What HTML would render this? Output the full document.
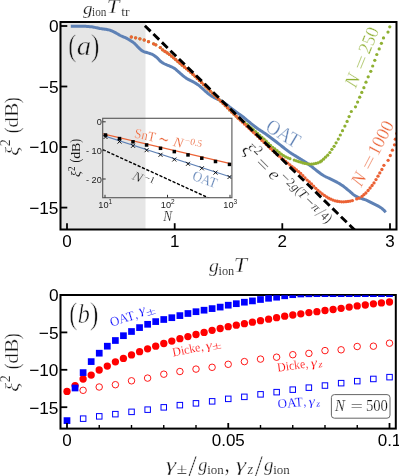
<!DOCTYPE html>
<html><head><meta charset="utf-8"><title>figure</title>
<style>
html,body{margin:0;padding:0;background:#fff;}
svg{display:block;will-change:transform;}
.ss{font-family:"Liberation Sans",sans-serif;}
.sr{font-family:"Liberation Serif",serif;}
.it{font-style:italic;}
</style></head><body>
<svg width="399" height="476" viewBox="0 0 399 476">
<rect x="0" y="0" width="399" height="476" fill="#fff"/>
<defs>
<clipPath id="ca"><rect x="60.5" y="22.0" width="336.0" height="207.5"/></clipPath>
<clipPath id="ci"><rect x="102.7" y="118.3" width="129.2" height="79.4"/></clipPath>
<clipPath id="cb"><rect x="60.5" y="295.3" width="335.5" height="133.2"/></clipPath>
</defs>
<rect x="60.5" y="22.0" width="85.0" height="207.5" fill="#e6e6e6"/>
<g clip-path="url(#ca)">
<path d="M70.80,26.20 L71.80,26.20 L72.80,26.20 L73.80,26.20 L74.80,26.20 L75.80,26.20 L76.80,26.20 L77.80,26.20 L78.80,26.20 L79.80,26.20 L80.80,26.20 L81.80,26.20 L82.80,26.20 L83.80,26.22 L84.80,26.26 L85.80,26.31 L86.80,26.38 L87.80,26.46 L88.80,26.55 L89.80,26.65 L90.80,26.75 L91.80,26.86 L92.80,27.00 L93.80,27.17 L94.80,27.37 L95.80,27.59 L96.80,27.82 L97.80,28.04 L98.80,28.25 L99.80,28.45 L100.80,28.62 L101.80,28.77 L102.80,28.90 L103.80,29.04 L104.80,29.17 L105.80,29.32 L106.80,29.48 L107.80,29.66 L108.80,29.88 L109.80,30.15 L110.80,30.51 L111.80,30.93 L112.80,31.39 L113.80,31.86 L114.80,32.34 L115.80,32.88 L116.80,33.46 L117.80,34.05 L118.80,34.65 L119.80,35.22 L120.80,35.75 L121.80,36.23 L122.80,36.65 L123.80,37.06 L124.80,37.47 L125.80,37.91 L126.80,38.41 L127.80,38.97 L128.80,39.57 L129.80,40.18 L130.80,40.80 L131.80,41.43 L132.80,42.10 L133.80,42.84 L134.80,43.71 L135.80,44.75 L136.80,45.85 L137.80,46.92 L138.80,47.88 L139.80,48.82 L140.80,49.74 L141.80,50.56 L142.80,51.20 L143.80,51.64 L144.80,51.98 L145.80,52.27 L146.80,52.55 L147.80,52.87 L148.80,53.18 L149.80,53.49 L150.80,53.82 L151.80,54.21 L152.80,54.69 L153.80,55.28 L154.80,55.95 L155.80,56.68 L156.80,57.46 L157.80,58.43 L158.80,59.53 L159.80,60.62 L160.80,61.57 L161.80,62.29 L162.80,62.93 L163.80,63.49 L164.80,64.01 L165.80,64.49 L166.80,64.92 L167.80,65.29 L168.80,65.67 L169.80,66.07 L170.80,66.51 L171.80,66.97 L172.80,67.47 L173.80,68.01 L174.80,68.63 L175.80,69.42 L176.80,70.31 L177.80,71.23 L178.80,72.10 L179.80,72.99 L180.80,73.88 L181.80,74.73 L182.80,75.56 L183.80,76.37 L184.80,77.15 L185.80,77.87 L186.80,78.51 L187.80,79.10 L188.80,79.66 L189.80,80.19 L190.80,80.71 L191.80,81.19 L192.80,81.68 L193.80,82.19 L194.80,82.75 L195.80,83.35 L196.80,83.98 L197.80,84.66 L198.80,85.40 L199.80,86.20 L200.80,87.05 L201.80,87.93 L202.80,88.82 L203.80,89.77 L204.80,90.72 L205.80,91.63 L206.80,92.48 L207.80,93.32 L208.80,94.11 L209.80,94.86 L210.80,95.55 L211.80,96.20 L212.80,96.82 L213.80,97.39 L214.80,97.91 L215.80,98.39 L216.80,98.85 L217.80,99.31 L218.80,99.77 L219.80,100.22 L220.80,100.68 L221.80,101.19 L222.80,101.77 L223.80,102.42 L224.80,103.12 L225.80,103.85 L226.80,104.62 L227.80,105.46 L228.80,106.31 L229.80,107.14 L230.80,107.92 L231.80,108.67 L232.80,109.41 L233.80,110.15 L234.80,110.90 L235.80,111.66 L236.80,112.41 L237.80,113.15 L238.80,113.87 L239.80,114.57 L240.80,115.26 L241.80,115.98 L242.80,116.73 L243.80,117.53 L244.80,118.36 L245.80,119.20 L246.80,120.04 L247.80,120.86 L248.80,121.69 L249.80,122.52 L250.80,123.34 L251.80,124.15 L252.80,124.93 L253.80,125.70 L254.80,126.46 L255.80,127.21 L256.80,127.94 L257.80,128.66 L258.80,129.36 L259.80,130.04 L260.80,130.70 L261.80,131.35 L262.80,132.01 L263.80,132.68 L264.80,133.36 L265.80,134.06 L266.80,134.77 L267.80,135.50 L268.80,136.22 L269.80,136.96 L270.80,137.70 L271.80,138.45 L272.80,139.20 L273.80,139.97 L274.80,140.74 L275.80,141.52 L276.80,142.30 L277.80,143.09 L278.80,143.87 L279.80,144.65 L280.80,145.42 L281.80,146.21 L282.80,147.01 L283.80,147.80 L284.80,148.60 L285.80,149.39 L286.80,150.16 L287.80,150.92 L288.80,151.65 L289.80,152.36 L290.80,153.04 L291.80,153.69 L292.80,154.32 L293.80,154.94 L294.80,155.55 L295.80,156.15 L296.80,156.76 L297.80,157.38 L298.80,158.00 L299.80,158.61 L300.80,159.22 L301.80,159.83 L302.80,160.45 L303.80,161.07 L304.80,161.71 L305.80,162.37 L306.80,163.04 L307.80,163.74 L308.80,164.45 L309.80,165.18 L310.80,165.92 L311.80,166.68 L312.80,167.48 L313.80,168.31 L314.80,169.14 L315.80,169.96 L316.80,170.76 L317.80,171.52 L318.80,172.27 L319.80,173.01 L320.80,173.74 L321.80,174.43 L322.80,175.09 L323.80,175.70 L324.80,176.26 L325.80,176.78 L326.80,177.27 L327.80,177.75 L328.80,178.22 L329.80,178.70 L330.80,179.19 L331.80,179.67 L332.80,180.15 L333.80,180.63 L334.80,181.12 L335.80,181.63 L336.80,182.17 L337.80,182.73 L338.80,183.30 L339.80,183.90 L340.80,184.52 L341.80,185.16 L342.80,185.84 L343.80,186.56 L344.80,187.34 L345.80,188.15 L346.80,188.97 L347.80,189.80 L348.80,190.62 L349.80,191.45 L350.80,192.33 L351.80,193.22 L352.80,194.08 L353.80,194.87 L354.80,195.57 L355.80,196.17 L356.80,196.71 L357.80,197.20 L358.80,197.64 L359.80,198.03 L360.80,198.38 L361.80,198.69 L362.80,198.98 L363.80,199.28 L364.80,199.60 L365.80,199.96 L366.80,200.37 L367.80,200.83 L368.80,201.32 L369.80,201.83 L370.80,202.36 L371.80,202.89 L372.80,203.40 L373.80,203.90 L374.80,204.38 L375.80,204.86 L376.80,205.36 L377.80,205.87 L378.80,206.42 L379.80,207.01 L380.80,207.66 L381.80,208.40 L382.80,209.24 L383.80,210.17 L384.80,211.17 L385.80,212.23" fill="none" stroke="#5E81B5" stroke-width="3.0" stroke-linejoin="round" stroke-linecap="butt" />
<g fill="#8FB032"><circle cx="131.30" cy="37.00" r="1.62"/><circle cx="135.60" cy="37.80" r="1.62"/><circle cx="139.90" cy="38.80" r="1.62"/><circle cx="144.20" cy="40.00" r="1.62"/><circle cx="148.50" cy="41.70" r="1.62"/><circle cx="153.60" cy="43.83" r="1.62"/><circle cx="155.80" cy="44.80" r="1.62"/><circle cx="160.30" cy="47.60" r="1.62"/><circle cx="162.60" cy="49.80" r="1.62"/><circle cx="165.00" cy="51.48" r="1.62"/><circle cx="167.15" cy="52.82" r="1.62"/><circle cx="169.31" cy="54.33" r="1.62"/><circle cx="171.46" cy="56.04" r="1.62"/><circle cx="173.62" cy="57.84" r="1.62"/><circle cx="175.77" cy="59.65" r="1.62"/><circle cx="177.92" cy="61.51" r="1.62"/><circle cx="180.08" cy="63.37" r="1.62"/><circle cx="182.23" cy="65.19" r="1.62"/><circle cx="184.39" cy="66.99" r="1.62"/><circle cx="186.54" cy="68.75" r="1.62"/><circle cx="188.69" cy="70.50" r="1.62"/><circle cx="190.85" cy="72.35" r="1.62"/><circle cx="193.00" cy="74.31" r="1.62"/><circle cx="195.16" cy="76.34" r="1.62"/><circle cx="197.31" cy="78.41" r="1.62"/><circle cx="199.46" cy="80.48" r="1.62"/><circle cx="201.62" cy="82.56" r="1.62"/><circle cx="203.77" cy="84.67" r="1.62"/><circle cx="205.93" cy="86.79" r="1.62"/><circle cx="208.08" cy="88.92" r="1.62"/><circle cx="210.23" cy="91.03" r="1.62"/><circle cx="212.39" cy="93.12" r="1.62"/><circle cx="214.54" cy="95.21" r="1.62"/><circle cx="216.70" cy="97.30" r="1.62"/><circle cx="218.85" cy="99.38" r="1.62"/><circle cx="221.00" cy="101.48" r="1.62"/><circle cx="223.16" cy="103.58" r="1.62"/><circle cx="225.31" cy="105.69" r="1.62"/><circle cx="227.47" cy="107.80" r="1.62"/><circle cx="229.62" cy="109.90" r="1.62"/><circle cx="231.77" cy="111.98" r="1.62"/><circle cx="233.93" cy="114.05" r="1.62"/><circle cx="236.08" cy="116.09" r="1.62"/><circle cx="238.24" cy="118.13" r="1.62"/><circle cx="240.39" cy="119.66" r="1.62"/><circle cx="242.54" cy="121.15" r="1.62"/><circle cx="244.70" cy="122.71" r="1.62"/><circle cx="246.85" cy="124.33" r="1.62"/><circle cx="249.01" cy="126.01" r="1.62"/><circle cx="251.16" cy="127.75" r="1.62"/><circle cx="253.31" cy="129.60" r="1.62"/><circle cx="255.47" cy="131.53" r="1.62"/><circle cx="257.62" cy="133.47" r="1.62"/><circle cx="259.78" cy="135.40" r="1.62"/><circle cx="261.93" cy="137.27" r="1.62"/><circle cx="264.08" cy="139.16" r="1.62"/><circle cx="266.24" cy="141.22" r="1.62"/><circle cx="268.39" cy="143.45" r="1.62"/><circle cx="270.55" cy="145.48" r="1.62"/><circle cx="272.70" cy="147.27" r="1.62"/><circle cx="274.85" cy="148.94" r="1.62"/><circle cx="277.01" cy="150.61" r="1.62"/><circle cx="279.16" cy="152.39" r="1.62"/><circle cx="281.32" cy="154.17" r="1.62"/><circle cx="283.47" cy="155.59" r="1.62"/><circle cx="285.62" cy="156.76" r="1.62"/><circle cx="287.78" cy="157.77" r="1.62"/><circle cx="289.93" cy="158.63" r="1.62"/><circle cx="294.24" cy="160.05" r="1.62"/><circle cx="296.39" cy="160.78" r="1.62"/><circle cx="298.55" cy="161.53" r="1.62"/><circle cx="300.70" cy="162.22" r="1.62"/><circle cx="302.86" cy="162.88" r="1.62"/><circle cx="305.01" cy="163.40" r="1.62"/><circle cx="307.16" cy="163.81" r="1.62"/><circle cx="309.32" cy="164.08" r="1.62"/><circle cx="311.47" cy="164.04" r="1.62"/><circle cx="313.63" cy="163.80" r="1.62"/><circle cx="315.78" cy="163.45" r="1.62"/><circle cx="317.93" cy="162.82" r="1.62"/><circle cx="320.09" cy="161.98" r="1.62"/><circle cx="321.50" cy="160.90" r="1.62"/><circle cx="323.50" cy="159.20" r="1.62"/><circle cx="325.50" cy="157.20" r="1.62"/><circle cx="327.70" cy="155.20" r="1.62"/><circle cx="329.90" cy="152.50" r="1.62"/><circle cx="331.90" cy="149.30" r="1.62"/><circle cx="334.10" cy="146.30" r="1.62"/><circle cx="336.10" cy="142.80" r="1.62"/><circle cx="338.30" cy="139.10" r="1.62"/><circle cx="340.30" cy="135.00" r="1.62"/><circle cx="342.50" cy="130.70" r="1.62"/><circle cx="344.90" cy="126.10" r="1.62"/><circle cx="347.10" cy="121.40" r="1.62"/><circle cx="349.10" cy="116.60" r="1.62"/><circle cx="351.30" cy="111.50" r="1.62"/><circle cx="355.50" cy="106.80" r="1.62"/><circle cx="357.60" cy="102.10" r="1.62"/><circle cx="359.70" cy="97.20" r="1.62"/><circle cx="361.80" cy="92.40" r="1.62"/><circle cx="363.90" cy="87.70" r="1.62"/><circle cx="366.00" cy="82.20" r="1.62"/><circle cx="368.20" cy="76.80" r="1.62"/><circle cx="370.80" cy="71.30" r="1.62"/><circle cx="372.70" cy="66.00" r="1.62"/><circle cx="374.80" cy="60.30" r="1.62"/><circle cx="376.80" cy="54.50" r="1.62"/><circle cx="379.20" cy="48.90" r="1.62"/><circle cx="381.40" cy="43.30" r="1.62"/><circle cx="383.50" cy="37.90" r="1.62"/><circle cx="388.00" cy="32.10" r="1.62"/><circle cx="389.80" cy="26.80" r="1.62"/></g>
<g fill="#EB6235"><circle cx="131.30" cy="37.00" r="1.65"/><circle cx="135.60" cy="37.80" r="1.65"/><circle cx="139.90" cy="38.80" r="1.65"/><circle cx="144.20" cy="40.00" r="1.65"/><circle cx="148.50" cy="41.70" r="1.65"/><circle cx="153.60" cy="43.83" r="1.65"/><circle cx="155.80" cy="44.80" r="1.65"/><circle cx="160.30" cy="47.60" r="1.65"/><circle cx="162.60" cy="49.80" r="1.65"/><circle cx="165.00" cy="51.48" r="1.65"/><circle cx="167.15" cy="52.82" r="1.65"/><circle cx="169.31" cy="54.33" r="1.65"/><circle cx="171.46" cy="56.04" r="1.65"/><circle cx="173.62" cy="57.84" r="1.65"/><circle cx="175.77" cy="59.65" r="1.65"/><circle cx="177.92" cy="61.51" r="1.65"/><circle cx="180.08" cy="63.37" r="1.65"/><circle cx="182.23" cy="65.19" r="1.65"/><circle cx="184.39" cy="66.99" r="1.65"/><circle cx="186.54" cy="68.75" r="1.65"/><circle cx="188.69" cy="70.50" r="1.65"/><circle cx="190.85" cy="72.35" r="1.65"/><circle cx="193.00" cy="74.31" r="1.65"/><circle cx="195.16" cy="76.34" r="1.65"/><circle cx="197.31" cy="78.41" r="1.65"/><circle cx="199.46" cy="80.48" r="1.65"/><circle cx="201.62" cy="82.56" r="1.65"/><circle cx="203.77" cy="84.67" r="1.65"/><circle cx="205.93" cy="86.79" r="1.65"/><circle cx="208.08" cy="88.92" r="1.65"/><circle cx="210.23" cy="91.03" r="1.65"/><circle cx="212.39" cy="93.12" r="1.65"/><circle cx="214.54" cy="95.21" r="1.65"/><circle cx="216.70" cy="97.30" r="1.65"/><circle cx="218.85" cy="99.38" r="1.65"/><circle cx="221.00" cy="101.48" r="1.65"/><circle cx="223.16" cy="103.58" r="1.65"/><circle cx="225.31" cy="105.69" r="1.65"/><circle cx="227.47" cy="107.80" r="1.65"/><circle cx="229.62" cy="109.90" r="1.65"/><circle cx="231.77" cy="111.98" r="1.65"/><circle cx="233.93" cy="114.05" r="1.65"/><circle cx="236.08" cy="116.09" r="1.65"/><circle cx="238.24" cy="118.13" r="1.65"/><circle cx="240.39" cy="120.16" r="1.65"/><circle cx="242.54" cy="122.19" r="1.65"/><circle cx="244.70" cy="124.22" r="1.65"/><circle cx="246.85" cy="126.25" r="1.65"/><circle cx="249.01" cy="128.27" r="1.65"/><circle cx="251.16" cy="130.30" r="1.65"/><circle cx="253.31" cy="132.32" r="1.65"/><circle cx="255.47" cy="134.34" r="1.65"/><circle cx="257.62" cy="136.37" r="1.65"/><circle cx="259.78" cy="138.39" r="1.65"/><circle cx="261.93" cy="140.42" r="1.65"/><circle cx="264.08" cy="142.46" r="1.65"/><circle cx="266.24" cy="144.50" r="1.65"/><circle cx="268.39" cy="146.52" r="1.65"/><circle cx="270.55" cy="148.50" r="1.65"/><circle cx="272.70" cy="150.46" r="1.65"/><circle cx="274.85" cy="152.40" r="1.65"/><circle cx="277.01" cy="154.31" r="1.65"/><circle cx="279.16" cy="156.19" r="1.65"/><circle cx="281.32" cy="158.00" r="1.65"/><circle cx="283.47" cy="159.77" r="1.65"/><circle cx="285.62" cy="161.51" r="1.65"/><circle cx="287.78" cy="163.22" r="1.65"/><circle cx="289.93" cy="164.95" r="1.65"/><circle cx="292.09" cy="166.63" r="1.65"/><circle cx="294.24" cy="168.24" r="1.65"/><circle cx="296.39" cy="169.87" r="1.65"/><circle cx="298.55" cy="171.58" r="1.65"/><circle cx="300.70" cy="173.45" r="1.65"/><circle cx="302.86" cy="175.64" r="1.65"/><circle cx="305.01" cy="178.01" r="1.65"/><circle cx="307.16" cy="180.05" r="1.65"/><circle cx="309.32" cy="181.97" r="1.65"/><circle cx="311.47" cy="183.97" r="1.65"/><circle cx="313.63" cy="186.15" r="1.65"/><circle cx="315.78" cy="188.37" r="1.65"/><circle cx="317.93" cy="190.38" r="1.65"/><circle cx="320.09" cy="192.20" r="1.65"/><circle cx="322.24" cy="193.88" r="1.65"/><circle cx="324.40" cy="195.41" r="1.65"/><circle cx="326.55" cy="196.86" r="1.65"/><circle cx="328.70" cy="198.15" r="1.65"/><circle cx="330.86" cy="199.19" r="1.65"/><circle cx="333.01" cy="200.12" r="1.65"/><circle cx="335.17" cy="200.85" r="1.65"/><circle cx="337.32" cy="201.27" r="1.65"/><circle cx="339.47" cy="201.59" r="1.65"/><circle cx="341.63" cy="201.78" r="1.65"/><circle cx="343.78" cy="201.78" r="1.65"/><circle cx="345.94" cy="201.63" r="1.65"/><circle cx="348.09" cy="201.40" r="1.65"/><circle cx="350.24" cy="201.09" r="1.65"/><circle cx="352.40" cy="200.58" r="1.65"/><circle cx="356.71" cy="198.93" r="1.65"/><circle cx="358.86" cy="198.20" r="1.65"/><circle cx="362.00" cy="196.40" r="1.65"/><circle cx="363.90" cy="194.70" r="1.65"/><circle cx="365.90" cy="193.00" r="1.65"/><circle cx="368.10" cy="190.50" r="1.65"/><circle cx="370.10" cy="188.00" r="1.65"/><circle cx="372.10" cy="185.50" r="1.65"/><circle cx="374.00" cy="182.90" r="1.65"/><circle cx="376.00" cy="179.60" r="1.65"/><circle cx="378.00" cy="176.20" r="1.65"/><circle cx="379.80" cy="172.90" r="1.65"/><circle cx="381.90" cy="169.50" r="1.65"/><circle cx="383.90" cy="165.30" r="1.65"/><circle cx="388.10" cy="160.30" r="1.65"/><circle cx="390.30" cy="155.50" r="1.65"/><circle cx="392.40" cy="150.20" r="1.65"/><circle cx="394.50" cy="144.80" r="1.65"/><circle cx="395.30" cy="139.20" r="1.65"/><circle cx="396.80" cy="133.50" r="1.65"/></g>
<path d="M143.8,24.73 L356.0,231.29" stroke="#000" stroke-width="2.9" stroke-dasharray="8 3.9" stroke-dashoffset="-1.5" fill="none"/>
</g>
<g fill="#111">
<text class="sr" transform="translate(68.20,55.54) scale(0.804,1)" font-size="30.99" stroke="#e6e6e6" stroke-width="0.56">(</text>
<text class="sr it" transform="translate(76.68,54.92) scale(1.034,1)" font-size="27.92" stroke="#e6e6e6" stroke-width="0.49">a</text>
<text class="sr" transform="translate(91.04,55.54) scale(0.819,1)" font-size="30.99" stroke="#e6e6e6" stroke-width="0.56">)</text>
</g>
<g transform="translate(264.8,130.3) rotate(31)" fill="#5E81B5"><text class="sr" transform="translate(-0.75,-0.01) scale(0.901,1)" font-size="20.75" stroke="#fff" stroke-width="0.34">OAT</text></g>
<g transform="translate(355.6,88.9) rotate(-68)" fill="#8FB032"><text class="sr it" transform="translate(0.19,0.00) scale(1.004,1)" font-size="19.24" stroke="#fff" stroke-width="0.30">N</text><text class="sr" transform="translate(19.32,1.17) scale(1.430,1)" font-size="18.40" stroke="#fff" stroke-width="0.28">=</text><text class="sr" transform="translate(36.48,0.01) scale(0.962,1)" font-size="18.67" stroke="#fff" stroke-width="0.29">250</text></g>
<g transform="translate(361.2,188.0) rotate(-62.2)" fill="#EB6235"><text class="sr it" transform="translate(0.19,0.00) scale(1.004,1)" font-size="19.24" stroke="#fff" stroke-width="0.30">N</text><text class="sr" transform="translate(18.82,0.77) scale(1.430,1)" font-size="18.40" stroke="#fff" stroke-width="0.28">=</text><text class="sr" transform="translate(35.26,0.01) scale(0.969,1)" font-size="18.67" stroke="#fff" stroke-width="0.29">1000</text></g>
<g transform="translate(241.9,150.2) rotate(44.5)" fill="#111"><text class="sr it" transform="translate(-0.62,0.93) scale(1.107,1)" font-size="18.75" stroke="#fff" stroke-width="0.29">ξ</text><text class="sr" transform="translate(8.89,-7.10) scale(0.952,1)" font-size="13.48" stroke="#fff" stroke-width="0.18">2</text><text class="sr" transform="translate(18.46,0.84) scale(1.378,1)" font-size="16.80" stroke="#fff" stroke-width="0.25">=</text><text class="sr it" transform="translate(36.02,0.02) scale(1.099,1)" font-size="17.50" stroke="#fff" stroke-width="0.26">e</text><text class="sr" transform="translate(45.79,-5.25) scale(0.868,1)" font-size="18.18" stroke="#fff" stroke-width="0.28">−</text><text class="sr" transform="translate(54.51,-7.20) scale(0.970,1)" font-size="12.73" stroke="#fff" stroke-width="0.16">2</text><text class="sr it" transform="translate(60.80,-7.38) scale(0.996,1)" font-size="12.26" stroke="#fff" stroke-width="0.15">g</text><text class="sr" transform="translate(67.15,-7.22) scale(0.805,1)" font-size="14.07" stroke="#fff" stroke-width="0.19">(</text><text class="sr it" transform="translate(70.26,-7.20) scale(1.085,1)" font-size="13.28" stroke="#fff" stroke-width="0.17">T</text><text class="sr" transform="translate(79.90,-5.25) scale(0.857,1)" font-size="18.18" stroke="#fff" stroke-width="0.28">−</text><text class="sr it" transform="translate(89.33,-7.23) scale(1.103,1)" font-size="12.55" stroke="#fff" stroke-width="0.16">π</text><text class="sr" transform="translate(97.20,-4.39) scale(0.935,1)" font-size="19.10" stroke="#fff" stroke-width="0.30">/</text><text class="sr" transform="translate(102.43,-7.20) scale(0.903,1)" font-size="12.73" stroke="#fff" stroke-width="0.16">4</text><text class="sr" transform="translate(108.25,-7.22) scale(0.820,1)" font-size="14.07" stroke="#fff" stroke-width="0.19">)</text></g>
<rect x="60.5" y="22.0" width="336.0" height="207.5" fill="none" stroke="#000" stroke-width="2"/>
<path d="M60.5,26 H67.3" stroke="#000" stroke-width="1.8"/>
<text class="ss" x="58.5" y="32.4" font-size="17.3" text-anchor="end">0</text>
<path d="M60.5,86.5 H67.3" stroke="#000" stroke-width="1.8"/>
<text class="ss" x="58.5" y="92.9" font-size="17.3" text-anchor="end">−5</text>
<path d="M60.5,147 H67.3" stroke="#000" stroke-width="1.8"/>
<text class="ss" x="58.5" y="153.4" font-size="17.3" text-anchor="end">−10</text>
<path d="M60.5,207.6 H67.3" stroke="#000" stroke-width="1.8"/>
<text class="ss" x="58.5" y="214.0" font-size="17.3" text-anchor="end">−15</text>
<path d="M67,229.5 V223.2" stroke="#000" stroke-width="1.8"/>
<text class="ss" x="67" y="247.2" font-size="17" text-anchor="middle">0</text>
<path d="M174.7,229.5 V223.2" stroke="#000" stroke-width="1.8"/>
<text class="ss" x="174.7" y="247.2" font-size="17" text-anchor="middle">1</text>
<path d="M282.3,229.5 V223.2" stroke="#000" stroke-width="1.8"/>
<text class="ss" x="282.3" y="247.2" font-size="17" text-anchor="middle">2</text>
<path d="M390,229.5 V223.2" stroke="#000" stroke-width="1.8"/>
<text class="ss" x="390" y="247.2" font-size="17" text-anchor="middle">3</text>
<g fill="#111">
<text class="sr it" transform="translate(82.90,13.67) scale(1.172,1)" font-size="16.35" stroke="#fff" stroke-width="0.24">g</text>
<text class="sr" transform="translate(92.07,15.68) scale(0.950,1)" font-size="11.85" stroke="#fff" stroke-width="0.14">ion</text>
<text class="sr it" transform="translate(106.72,13.30) scale(1.219,1)" font-size="18.63" stroke="#fff" stroke-width="0.29">T</text>
<text class="sr" transform="translate(121.13,15.68) scale(1.127,1)" font-size="12.17" stroke="#fff" stroke-width="0.15">tr</text>
</g>
<g fill="#111">
<text class="sr it" transform="translate(209.00,271.77) scale(1.031,1)" font-size="19.20" stroke="#fff" stroke-width="0.30">g</text>
<text class="sr" transform="translate(218.55,274.58) scale(1.026,1)" font-size="12.00" stroke="#fff" stroke-width="0.14">ion</text>
<text class="sr it" transform="translate(233.75,272.00) scale(1.082,1)" font-size="21.98" stroke="#fff" stroke-width="0.36">T</text>
</g>
<g transform="translate(18.4,155.2) rotate(-90) scale(1.0)" fill="#111"><text class="sr it" transform="translate(-0.62,-0.14) scale(1.055,1)" font-size="19.66" stroke="#fff" stroke-width="0.31">ξ</text><text class="sr" transform="translate(8.85,-8.20) scale(0.966,1)" font-size="14.32" stroke="#fff" stroke-width="0.19">2</text><text class="sr" transform="translate(21.91,0.19) scale(0.810,1)" font-size="21.43" stroke="#fff" stroke-width="0.35">(</text><text class="sr" transform="translate(27.45,0.06) scale(1.104,1)" font-size="19.36" stroke="#fff" stroke-width="0.31">dB</text><text class="sr" transform="translate(52.07,0.19) scale(0.826,1)" font-size="21.43" stroke="#fff" stroke-width="0.35">)</text></g>
<g clip-path="url(#ci)">
<path d="M101.75,133.6 L231.5,163.9" stroke="#EB6235" stroke-width="1.2" fill="none"/>
<path d="M101.75,135.0 L231.5,177.3" stroke="#5E81B5" stroke-width="1.2" fill="none"/>
<path d="M102.7,149.55 L210.1,198.6" stroke="#000" stroke-width="1.4" stroke-dasharray="3.2 1.6" fill="none"/>
<rect x="103.75" y="133.25" width="3.5" height="3.5" fill="#000"/>
<rect x="117.75" y="136.85" width="3.5" height="3.5" fill="#000"/>
<rect x="131.25" y="140.05" width="3.5" height="3.5" fill="#000"/>
<rect x="144.85" y="143.25" width="3.5" height="3.5" fill="#000"/>
<rect x="158.75" y="146.55" width="3.5" height="3.5" fill="#000"/>
<rect x="172.55" y="149.85" width="3.5" height="3.5" fill="#000"/>
<rect x="186.25" y="153.15" width="3.5" height="3.5" fill="#000"/>
<rect x="200.05" y="156.45" width="3.5" height="3.5" fill="#000"/>
<rect x="213.75" y="159.75" width="3.5" height="3.5" fill="#000"/>
<rect x="227.75" y="162.65" width="3.5" height="3.5" fill="#000"/>
<path d="M103.5,135.0 L107.5,139.0 M103.5,139.0 L107.5,135.0" stroke="#000" stroke-width="0.9" fill="none"/>
<path d="M117.5,139.6 L121.5,143.6 M117.5,143.6 L121.5,139.6" stroke="#000" stroke-width="0.9" fill="none"/>
<path d="M131.0,143.8 L135.0,147.8 M131.0,147.8 L135.0,143.8" stroke="#000" stroke-width="0.9" fill="none"/>
<path d="M144.6,148.2 L148.6,152.2 M144.6,152.2 L148.6,148.2" stroke="#000" stroke-width="0.9" fill="none"/>
<path d="M158.5,152.8 L162.5,156.8 M158.5,156.8 L162.5,152.8" stroke="#000" stroke-width="0.9" fill="none"/>
<path d="M172.3,157.5 L176.3,161.5 M172.3,161.5 L176.3,157.5" stroke="#000" stroke-width="0.9" fill="none"/>
<path d="M186.0,161.8 L190.0,165.8 M186.0,165.8 L190.0,161.8" stroke="#000" stroke-width="0.9" fill="none"/>
<path d="M199.8,166.3 L203.8,170.3 M199.8,170.3 L203.8,166.3" stroke="#000" stroke-width="0.9" fill="none"/>
<path d="M213.5,170.6 L217.5,174.6 M213.5,174.6 L217.5,170.6" stroke="#000" stroke-width="0.9" fill="none"/>
<path d="M227.5,175.0 L231.5,179.0 M227.5,179.0 L231.5,175.0" stroke="#000" stroke-width="0.9" fill="none"/>
</g>
<rect x="102.7" y="118.3" width="129.2" height="79.39999999999999" fill="none" stroke="#5c5c5c" stroke-width="1.15"/>
<path d="M102.7,121.8 H105.7" stroke="#333" stroke-width="1"/>
<text class="ss" x="101.8" y="125.3" font-size="9.2" text-anchor="end" fill="#222">0</text>
<path d="M102.7,150.5 H105.7" stroke="#333" stroke-width="1"/>
<text class="ss" x="101.8" y="154.0" font-size="9.2" text-anchor="end" fill="#222">- 10</text>
<path d="M102.7,179.0 H105.7" stroke="#333" stroke-width="1"/>
<text class="ss" x="101.8" y="182.5" font-size="9.2" text-anchor="end" fill="#222">- 20</text>
<path d="M105,197.7 V194.8" stroke="#333" stroke-width="1"/>
<text class="ss" x="103.4" y="207.6" font-size="9.2" text-anchor="middle" fill="#222">10</text>
<text class="ss" x="110.2" y="204.2" font-size="6.5" text-anchor="middle" fill="#222">1</text>
<path d="M167.5,197.7 V194.8" stroke="#333" stroke-width="1"/>
<text class="ss" x="165.9" y="207.6" font-size="9.2" text-anchor="middle" fill="#222">10</text>
<text class="ss" x="172.7" y="204.2" font-size="6.5" text-anchor="middle" fill="#222">2</text>
<path d="M230,197.7 V194.8" stroke="#333" stroke-width="1"/>
<text class="ss" x="228.4" y="207.6" font-size="9.2" text-anchor="middle" fill="#222">10</text>
<text class="ss" x="235.2" y="204.2" font-size="6.5" text-anchor="middle" fill="#222">3</text>
<g fill="#111"><text class="sr it" transform="translate(163.33,220.80) scale(0.903,1)" font-size="14.66" stroke="#fff" stroke-width="0.20">N</text></g>
<g transform="translate(80.0,176.7) rotate(-90) scale(0.65)" fill="#111"><text class="sr it" transform="translate(-0.62,-0.14) scale(1.055,1)" font-size="19.66" stroke="#e6e6e6" stroke-width="0.04">ξ</text><text class="sr" transform="translate(8.85,-8.20) scale(0.966,1)" font-size="14.32" stroke="#e6e6e6" stroke-width="0.00">2</text><text class="sr" transform="translate(21.91,0.19) scale(0.810,1)" font-size="21.43" stroke="#e6e6e6" stroke-width="0.05">(</text><text class="sr" transform="translate(27.45,0.06) scale(1.104,1)" font-size="19.36" stroke="#e6e6e6" stroke-width="0.03">dB</text><text class="sr" transform="translate(52.07,0.19) scale(0.826,1)" font-size="21.43" stroke="#e6e6e6" stroke-width="0.05">)</text></g>
<g transform="translate(134.6,137.6) rotate(12)" fill="#EB6235"><text class="sr" transform="translate(-0.83,0.06) scale(0.917,1)" font-size="13.88" stroke="#fff" stroke-width="0.19">SnT</text><text class="sr" transform="translate(23.58,1.71) scale(0.738,1)" font-size="18.29" stroke="#fff" stroke-width="0.28">∼</text><text class="sr it" transform="translate(38.65,0.00) scale(1.117,1)" font-size="13.59" stroke="#fff" stroke-width="0.18">N</text><text class="sr" transform="translate(50.07,-4.75) scale(0.980,1)" font-size="9.71" stroke="#fff" stroke-width="0.09">−0.5</text></g>
<g transform="translate(191.9,179.7) rotate(20)" fill="#5E81B5"><text class="sr" transform="translate(-0.52,0.01) scale(0.908,1)" font-size="14.40" stroke="#fff" stroke-width="0.20">OAT</text></g>
<g transform="translate(131.2,178.8) rotate(24)" fill="#111"><text class="sr it" transform="translate(0.15,0.00) scale(1.142,1)" font-size="13.28" stroke="#fff" stroke-width="0.17">N</text><text class="sr" transform="translate(11.55,-4.40) scale(1.055,1)" font-size="9.39" stroke="#fff" stroke-width="0.09">−1</text></g>
<rect x="60.5" y="295.0" width="335.3" height="133.60000000000002" fill="none" stroke="#000" stroke-width="2"/>
<g clip-path="url(#cb)">
<circle cx="83.1" cy="390.3" r="3.25" fill="none" stroke="#FF0000" stroke-width="0.9"/>
<circle cx="99.2" cy="387.0" r="3.25" fill="none" stroke="#FF0000" stroke-width="0.9"/>
<circle cx="115.4" cy="384.7" r="3.25" fill="none" stroke="#FF0000" stroke-width="0.9"/>
<circle cx="131.5" cy="380.8" r="3.25" fill="none" stroke="#FF0000" stroke-width="0.9"/>
<circle cx="147.6" cy="378.1" r="3.25" fill="none" stroke="#FF0000" stroke-width="0.9"/>
<circle cx="163.8" cy="374.2" r="3.25" fill="none" stroke="#FF0000" stroke-width="0.9"/>
<circle cx="179.9" cy="371.5" r="3.25" fill="none" stroke="#FF0000" stroke-width="0.9"/>
<circle cx="196.0" cy="369.1" r="3.25" fill="none" stroke="#FF0000" stroke-width="0.9"/>
<circle cx="212.1" cy="367.3" r="3.25" fill="none" stroke="#FF0000" stroke-width="0.9"/>
<circle cx="228.2" cy="364.3" r="3.25" fill="none" stroke="#FF0000" stroke-width="0.9"/>
<circle cx="244.4" cy="361.6" r="3.25" fill="none" stroke="#FF0000" stroke-width="0.9"/>
<circle cx="260.5" cy="359.1" r="3.25" fill="none" stroke="#FF0000" stroke-width="0.9"/>
<circle cx="276.6" cy="357.2" r="3.25" fill="none" stroke="#FF0000" stroke-width="0.9"/>
<circle cx="292.8" cy="354.7" r="3.25" fill="none" stroke="#FF0000" stroke-width="0.9"/>
<circle cx="308.9" cy="353.4" r="3.25" fill="none" stroke="#FF0000" stroke-width="0.9"/>
<circle cx="325.0" cy="350.6" r="3.25" fill="none" stroke="#FF0000" stroke-width="0.9"/>
<circle cx="341.1" cy="349.8" r="3.25" fill="none" stroke="#FF0000" stroke-width="0.9"/>
<circle cx="357.2" cy="346.5" r="3.25" fill="none" stroke="#FF0000" stroke-width="0.9"/>
<circle cx="373.4" cy="346.2" r="3.25" fill="none" stroke="#FF0000" stroke-width="0.9"/>
<circle cx="389.5" cy="343.2" r="3.25" fill="none" stroke="#FF0000" stroke-width="0.9"/>
<rect x="80.4" y="415.9" width="5.5" height="5.5" fill="none" stroke="#0000FF" stroke-width="1"/>
<rect x="96.5" y="413.6" width="5.5" height="5.5" fill="none" stroke="#0000FF" stroke-width="1"/>
<rect x="112.6" y="411.4" width="5.5" height="5.5" fill="none" stroke="#0000FF" stroke-width="1"/>
<rect x="128.8" y="409.1" width="5.5" height="5.5" fill="none" stroke="#0000FF" stroke-width="1"/>
<rect x="144.9" y="406.9" width="5.5" height="5.5" fill="none" stroke="#0000FF" stroke-width="1"/>
<rect x="161.0" y="404.6" width="5.5" height="5.5" fill="none" stroke="#0000FF" stroke-width="1"/>
<rect x="177.1" y="402.4" width="5.5" height="5.5" fill="none" stroke="#0000FF" stroke-width="1"/>
<rect x="193.2" y="400.6" width="5.5" height="5.5" fill="none" stroke="#0000FF" stroke-width="1"/>
<rect x="209.4" y="398.6" width="5.5" height="5.5" fill="none" stroke="#0000FF" stroke-width="1"/>
<rect x="225.5" y="396.1" width="5.5" height="5.5" fill="none" stroke="#0000FF" stroke-width="1"/>
<rect x="241.6" y="394.1" width="5.5" height="5.5" fill="none" stroke="#0000FF" stroke-width="1"/>
<rect x="257.8" y="391.6" width="5.5" height="5.5" fill="none" stroke="#0000FF" stroke-width="1"/>
<rect x="273.9" y="389.4" width="5.5" height="5.5" fill="none" stroke="#0000FF" stroke-width="1"/>
<rect x="290.0" y="386.9" width="5.5" height="5.5" fill="none" stroke="#0000FF" stroke-width="1"/>
<rect x="306.1" y="384.9" width="5.5" height="5.5" fill="none" stroke="#0000FF" stroke-width="1"/>
<rect x="322.2" y="382.8" width="5.5" height="5.5" fill="none" stroke="#0000FF" stroke-width="1"/>
<rect x="338.4" y="380.4" width="5.5" height="5.5" fill="none" stroke="#0000FF" stroke-width="1"/>
<rect x="354.5" y="378.4" width="5.5" height="5.5" fill="none" stroke="#0000FF" stroke-width="1"/>
<rect x="370.6" y="376.2" width="5.5" height="5.5" fill="none" stroke="#0000FF" stroke-width="1"/>
<rect x="386.8" y="374.4" width="5.5" height="5.5" fill="none" stroke="#0000FF" stroke-width="1"/>
<circle cx="67.0" cy="391.4" r="3.65" fill="#FF0000"/>
<circle cx="75.1" cy="385.6" r="3.65" fill="#FF0000"/>
<circle cx="83.1" cy="379.0" r="3.65" fill="#FF0000"/>
<circle cx="91.2" cy="375.1" r="3.65" fill="#FF0000"/>
<circle cx="99.2" cy="370.0" r="3.65" fill="#FF0000"/>
<circle cx="107.3" cy="366.1" r="3.65" fill="#FF0000"/>
<circle cx="115.4" cy="361.8" r="3.65" fill="#FF0000"/>
<circle cx="123.4" cy="358.4" r="3.65" fill="#FF0000"/>
<circle cx="131.5" cy="354.9" r="3.65" fill="#FF0000"/>
<circle cx="139.6" cy="351.7" r="3.65" fill="#FF0000"/>
<circle cx="147.6" cy="348.8" r="3.65" fill="#FF0000"/>
<circle cx="155.7" cy="346.2" r="3.65" fill="#FF0000"/>
<circle cx="163.8" cy="343.5" r="3.65" fill="#FF0000"/>
<circle cx="171.8" cy="341.1" r="3.65" fill="#FF0000"/>
<circle cx="179.9" cy="338.7" r="3.65" fill="#FF0000"/>
<circle cx="187.9" cy="336.6" r="3.65" fill="#FF0000"/>
<circle cx="196.0" cy="334.5" r="3.65" fill="#FF0000"/>
<circle cx="204.1" cy="332.4" r="3.65" fill="#FF0000"/>
<circle cx="212.1" cy="330.3" r="3.65" fill="#FF0000"/>
<circle cx="220.2" cy="328.5" r="3.65" fill="#FF0000"/>
<circle cx="228.2" cy="326.7" r="3.65" fill="#FF0000"/>
<circle cx="236.3" cy="325.2" r="3.65" fill="#FF0000"/>
<circle cx="244.4" cy="323.7" r="3.65" fill="#FF0000"/>
<circle cx="252.4" cy="322.2" r="3.65" fill="#FF0000"/>
<circle cx="260.5" cy="320.7" r="3.65" fill="#FF0000"/>
<circle cx="268.6" cy="319.2" r="3.65" fill="#FF0000"/>
<circle cx="276.6" cy="317.7" r="3.65" fill="#FF0000"/>
<circle cx="284.7" cy="316.2" r="3.65" fill="#FF0000"/>
<circle cx="292.8" cy="315.0" r="3.65" fill="#FF0000"/>
<circle cx="300.8" cy="313.8" r="3.65" fill="#FF0000"/>
<circle cx="308.9" cy="312.6" r="3.65" fill="#FF0000"/>
<circle cx="316.9" cy="311.7" r="3.65" fill="#FF0000"/>
<circle cx="325.0" cy="310.5" r="3.65" fill="#FF0000"/>
<circle cx="333.1" cy="309.5" r="3.65" fill="#FF0000"/>
<circle cx="341.1" cy="308.3" r="3.65" fill="#FF0000"/>
<circle cx="349.2" cy="307.1" r="3.65" fill="#FF0000"/>
<circle cx="357.2" cy="305.9" r="3.65" fill="#FF0000"/>
<circle cx="365.3" cy="305.0" r="3.65" fill="#FF0000"/>
<circle cx="373.4" cy="303.8" r="3.65" fill="#FF0000"/>
<circle cx="381.4" cy="302.9" r="3.65" fill="#FF0000"/>
<circle cx="389.5" cy="302.0" r="3.65" fill="#FF0000"/>
<rect x="63.65" y="417.25" width="6.7" height="6.7" fill="#0000FF"/>
<rect x="71.71" y="384.65" width="6.7" height="6.7" fill="#0000FF"/>
<rect x="79.78" y="369.25" width="6.7" height="6.7" fill="#0000FF"/>
<rect x="87.84" y="358.25" width="6.7" height="6.7" fill="#0000FF"/>
<rect x="95.90" y="349.85" width="6.7" height="6.7" fill="#0000FF"/>
<rect x="103.96" y="342.85" width="6.7" height="6.7" fill="#0000FF"/>
<rect x="112.03" y="337.15" width="6.7" height="6.7" fill="#0000FF"/>
<rect x="120.09" y="332.35" width="6.7" height="6.7" fill="#0000FF"/>
<rect x="128.15" y="328.15" width="6.7" height="6.7" fill="#0000FF"/>
<rect x="136.21" y="324.25" width="6.7" height="6.7" fill="#0000FF"/>
<rect x="144.28" y="320.95" width="6.7" height="6.7" fill="#0000FF"/>
<rect x="152.34" y="318.25" width="6.7" height="6.7" fill="#0000FF"/>
<rect x="160.40" y="316.15" width="6.7" height="6.7" fill="#0000FF"/>
<rect x="168.46" y="314.35" width="6.7" height="6.7" fill="#0000FF"/>
<rect x="176.53" y="312.25" width="6.7" height="6.7" fill="#0000FF"/>
<rect x="184.59" y="310.15" width="6.7" height="6.7" fill="#0000FF"/>
<rect x="192.65" y="308.35" width="6.7" height="6.7" fill="#0000FF"/>
<rect x="200.71" y="306.85" width="6.7" height="6.7" fill="#0000FF"/>
<rect x="208.78" y="305.25" width="6.7" height="6.7" fill="#0000FF"/>
<rect x="216.84" y="303.75" width="6.7" height="6.7" fill="#0000FF"/>
<rect x="224.90" y="301.85" width="6.7" height="6.7" fill="#0000FF"/>
<rect x="232.96" y="300.35" width="6.7" height="6.7" fill="#0000FF"/>
<rect x="241.03" y="298.85" width="6.7" height="6.7" fill="#0000FF"/>
<rect x="249.09" y="297.55" width="6.7" height="6.7" fill="#0000FF"/>
<rect x="257.15" y="296.15" width="6.7" height="6.7" fill="#0000FF"/>
<rect x="265.21" y="294.95" width="6.7" height="6.7" fill="#0000FF"/>
<rect x="273.27" y="293.85" width="6.7" height="6.7" fill="#0000FF"/>
<rect x="281.34" y="292.45" width="6.7" height="6.7" fill="#0000FF"/>
<rect x="289.40" y="291.35" width="6.7" height="6.7" fill="#0000FF"/>
<rect x="297.46" y="290.65" width="6.7" height="6.7" fill="#0000FF"/>
<rect x="305.52" y="290.45" width="6.7" height="6.7" fill="#0000FF"/>
<rect x="313.59" y="290.30" width="6.7" height="6.7" fill="#0000FF"/>
<rect x="321.65" y="290.30" width="6.7" height="6.7" fill="#0000FF"/>
<rect x="329.71" y="290.30" width="6.7" height="6.7" fill="#0000FF"/>
<rect x="337.77" y="290.30" width="6.7" height="6.7" fill="#0000FF"/>
<rect x="345.84" y="290.30" width="6.7" height="6.7" fill="#0000FF"/>
<rect x="353.90" y="290.30" width="6.7" height="6.7" fill="#0000FF"/>
<rect x="361.96" y="290.30" width="6.7" height="6.7" fill="#0000FF"/>
<rect x="370.02" y="290.30" width="6.7" height="6.7" fill="#0000FF"/>
<rect x="378.09" y="290.30" width="6.7" height="6.7" fill="#0000FF"/>
<rect x="386.15" y="290.30" width="6.7" height="6.7" fill="#0000FF"/>
</g>
<text class="ss" x="58.5" y="301.4" font-size="17.3" text-anchor="end">0</text>
<path d="M60.5,332.4 H67.3" stroke="#000" stroke-width="1.8"/>
<text class="ss" x="58.5" y="338.79999999999995" font-size="17.3" text-anchor="end">−5</text>
<path d="M60.5,369.8 H67.3" stroke="#000" stroke-width="1.8"/>
<text class="ss" x="58.5" y="376.2" font-size="17.3" text-anchor="end">−10</text>
<path d="M60.5,407.2 H67.3" stroke="#000" stroke-width="1.8"/>
<text class="ss" x="58.5" y="413.59999999999997" font-size="17.3" text-anchor="end">−15</text>
<path d="M67.0,428.6 V423" stroke="#000" stroke-width="1.8"/>
<path d="M99.25,428.6 V425" stroke="#000" stroke-width="1.4"/>
<path d="M131.5,428.6 V425" stroke="#000" stroke-width="1.4"/>
<path d="M163.75,428.6 V425" stroke="#000" stroke-width="1.4"/>
<path d="M196.0,428.6 V425" stroke="#000" stroke-width="1.4"/>
<path d="M228.25,428.6 V423" stroke="#000" stroke-width="1.8"/>
<path d="M260.5,428.6 V425" stroke="#000" stroke-width="1.4"/>
<path d="M292.75,428.6 V425" stroke="#000" stroke-width="1.4"/>
<path d="M325.0,428.6 V425" stroke="#000" stroke-width="1.4"/>
<path d="M357.25,428.6 V425" stroke="#000" stroke-width="1.4"/>
<path d="M389.5,428.6 V423" stroke="#000" stroke-width="1.8"/>
<text class="ss" x="67" y="446.3" font-size="17" text-anchor="middle">0</text>
<text class="ss" x="228.25" y="446.3" font-size="17" text-anchor="middle">0.05</text>
<text class="ss" x="389.5" y="446.3" font-size="17" text-anchor="middle">0.1</text>
<g fill="#111">
<text class="sr" transform="translate(69.30,323.54) scale(0.804,1)" font-size="30.99" stroke="#fff" stroke-width="0.56">(</text>
<text class="sr it" transform="translate(77.66,323.42) scale(0.873,1)" font-size="27.66" stroke="#fff" stroke-width="0.49">b</text>
<text class="sr" transform="translate(89.94,323.54) scale(0.819,1)" font-size="30.99" stroke="#fff" stroke-width="0.56">)</text>
</g>
<g transform="translate(18.4,391.2) rotate(-90) scale(1.0)" fill="#111"><text class="sr it" transform="translate(-0.62,-0.14) scale(1.055,1)" font-size="19.66" stroke="#fff" stroke-width="0.31">ξ</text><text class="sr" transform="translate(8.85,-8.20) scale(0.966,1)" font-size="14.32" stroke="#fff" stroke-width="0.19">2</text><text class="sr" transform="translate(21.91,0.19) scale(0.810,1)" font-size="21.43" stroke="#fff" stroke-width="0.35">(</text><text class="sr" transform="translate(27.45,0.06) scale(1.104,1)" font-size="19.36" stroke="#fff" stroke-width="0.31">dB</text><text class="sr" transform="translate(52.07,0.19) scale(0.826,1)" font-size="21.43" stroke="#fff" stroke-width="0.35">)</text></g>
<g fill="#111">
<text class="sr it" transform="translate(166.11,470.79) scale(1.357,1)" font-size="19.10" stroke="#fff" stroke-width="0.30">γ</text>
<text class="sr" transform="translate(176.52,473.80) scale(1.332,1)" font-size="14.69" stroke="#fff" stroke-width="0.20">±</text>
<text class="sr" transform="translate(188.00,476.98) scale(1.011,1)" font-size="31.79" stroke="#fff" stroke-width="0.58">/</text>
<text class="sr it" transform="translate(198.30,471.15) scale(0.950,1)" font-size="19.27" stroke="#fff" stroke-width="0.30">g</text>
<text class="sr" transform="translate(207.24,473.78) scale(1.054,1)" font-size="12.30" stroke="#fff" stroke-width="0.15">ion</text>
<text class="sr" transform="translate(224.82,472.21) scale(0.751,1)" font-size="25.77" stroke="#fff" stroke-width="0.45">,</text>
<text class="sr it" transform="translate(236.11,470.79) scale(1.357,1)" font-size="19.10" stroke="#fff" stroke-width="0.30">γ</text>
<text class="sr it" transform="translate(247.42,473.80) scale(1.023,1)" font-size="14.35" stroke="#fff" stroke-width="0.20">z</text>
<text class="sr" transform="translate(254.50,476.98) scale(0.955,1)" font-size="31.79" stroke="#fff" stroke-width="0.58">/</text>
<text class="sr it" transform="translate(264.00,471.15) scale(0.983,1)" font-size="19.27" stroke="#fff" stroke-width="0.30">g</text>
<text class="sr" transform="translate(273.24,473.78) scale(1.054,1)" font-size="12.30" stroke="#fff" stroke-width="0.15">ion</text>
</g>
<g transform="translate(111.9,326.5) rotate(-17.5)" fill="#0000FF"><text class="sr" transform="translate(-0.52,0.02) scale(0.982,1)" font-size="13.21" stroke="#fff" stroke-width="0.17">OAT</text><text class="sr" transform="translate(25.09,0.11) scale(0.863,1)" font-size="13.46" stroke="#fff" stroke-width="0.18">,</text><text class="sr it" transform="translate(30.46,-2.97) scale(1.291,1)" font-size="12.24" stroke="#fff" stroke-width="0.15">γ</text><text class="sr" transform="translate(36.56,0.90) scale(1.803,1)" font-size="10.27" stroke="#fff" stroke-width="0.11">±</text></g>
<g transform="translate(173.6,356.4) rotate(-11.5)" fill="#FF0000"><text class="sr" transform="translate(-0.30,0.02) scale(0.941,1)" font-size="12.55" stroke="#fff" stroke-width="0.16">Dicke</text><text class="sr" transform="translate(28.09,0.11) scale(0.863,1)" font-size="13.46" stroke="#fff" stroke-width="0.18">,</text><text class="sr it" transform="translate(33.46,0.03) scale(1.291,1)" font-size="12.24" stroke="#fff" stroke-width="0.15">γ</text><text class="sr" transform="translate(39.61,1.60) scale(1.679,1)" font-size="10.27" stroke="#fff" stroke-width="0.11">±</text></g>
<g transform="translate(278.0,371.6) rotate(-7.8)" fill="#FF0000"><text class="sr" transform="translate(-0.30,0.02) scale(0.941,1)" font-size="12.55" stroke="#fff" stroke-width="0.16">Dicke</text><text class="sr" transform="translate(28.09,0.11) scale(0.863,1)" font-size="13.46" stroke="#fff" stroke-width="0.18">,</text><text class="sr it" transform="translate(33.46,0.03) scale(1.291,1)" font-size="12.24" stroke="#fff" stroke-width="0.15">γ</text><text class="sr it" transform="translate(40.86,1.50) scale(1.137,1)" font-size="9.35" stroke="#fff" stroke-width="0.09">z</text></g>
<g transform="translate(278.6,408.2) rotate(-5)" fill="#0000FF"><text class="sr" transform="translate(-0.52,0.02) scale(0.982,1)" font-size="13.21" stroke="#fff" stroke-width="0.17">OAT</text><text class="sr" transform="translate(25.09,0.11) scale(0.863,1)" font-size="13.46" stroke="#fff" stroke-width="0.18">,</text><text class="sr it" transform="translate(30.46,0.03) scale(1.291,1)" font-size="12.24" stroke="#fff" stroke-width="0.15">γ</text><text class="sr it" transform="translate(37.86,1.50) scale(1.137,1)" font-size="9.35" stroke="#fff" stroke-width="0.09">z</text></g>
<rect x="331.4" y="394.6" width="58.6" height="23.6" rx="3" ry="3" fill="#fff" stroke="#666" stroke-width="1"/>
<g fill="#111"><text class="sr it" transform="translate(334.95,410.90) scale(0.929,1)" font-size="16.03" stroke="#fff" stroke-width="0.23">N</text><text class="sr" transform="translate(350.40,411.54) scale(1.328,1)" font-size="16.80" stroke="#fff" stroke-width="0.25">=</text><text class="sr" transform="translate(365.89,410.94) scale(0.918,1)" font-size="16.00" stroke="#fff" stroke-width="0.23">500</text></g>
</svg></body></html>
